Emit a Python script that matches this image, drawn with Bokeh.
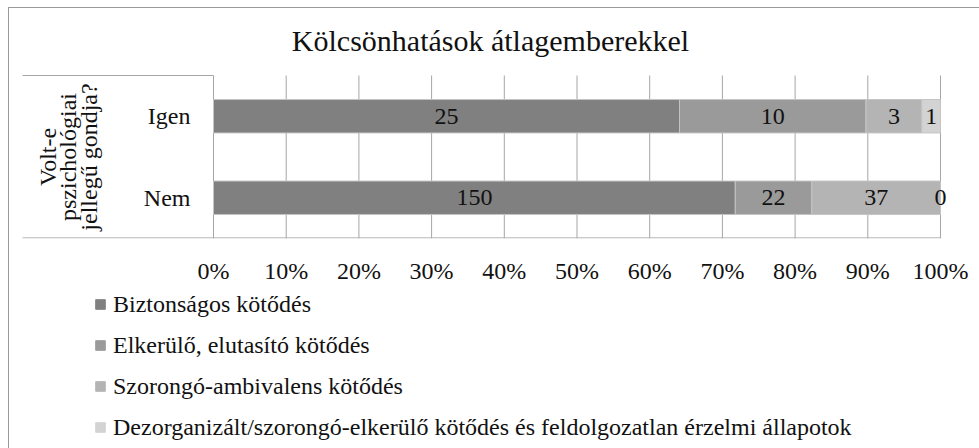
import numpy as np
from bokeh.plotting import figure
from bokeh.layouts import column
from bokeh.models import (ColumnDataSource, Legend, LegendItem, NumeralTickFormatter,
                          FixedTicker, Range1d)
from bokeh.embed import file_html
from bokeh.resources import INLINE
from bokeh.core.properties import value

# ---- data ----
categories = ["Nem", "Igen"]          # bottom to top
series_names = [
    "Biztonságos kötődés",
    "Elkerülő, elutasító kötődés",
    "Szorongó-ambivalens kötődés",
    "Dezorganizált/szorongó-elkerülő kötődés és feldolgozatlan érzelmi állapotok",
]
biztonsagos = [150, 25]
elkerulo = [22, 10]
szorongo = [37, 3]
dezorganizalt = [0, 1]
x_ticks = [0, 0.1, 0.2, 0.3, 0.4, 0.5, 0.6, 0.7, 0.8, 0.9, 1.0]
title_text = "Kölcsönhatások átlagemberekkel"
axis_title_lines = ["Volt-e", "pszichológiai", "jellegű gondja?"]

colors = ["#808080", "#9a9a9a", "#b4b4b4", "#d3d3d3"]
FONT = "Liberation Serif"
TXT = "#111111"
LINE = "#a6a6a6"
FS = "24px"

series = [biztonsagos, elkerulo, szorongo, dezorganizalt]
counts = np.array(series, dtype=float)
fracs = counts / counts.sum(axis=0)
lefts = np.vstack([np.zeros(len(categories)), np.cumsum(fracs, axis=0)[:-1]])
rights = np.cumsum(fracs, axis=0)
y_pos = np.arange(len(categories)) + 0.5

# ---- layout geometry (page pixels) ----
OX, OY = 9, 8                 # content origin inside the bordered box
W = 979 - OX
H1, H2 = 290 - OY, 158
X0, X100 = 213 - OX, 940 - OX  # figure pixel of 0% and 100%
YTOP, YBOT = 75 - OY, 238 - OY
FR_RIGHT = 950 - OX
ux = X100 - X0
uy = (YBOT - YTOP) / 2.0
px2x = lambda px: (px - OX - X0) / ux          # page px -> data x
py2y = lambda py: (YBOT - (py - OY)) / uy      # page px -> data y

p = figure(width=W, height=H1, output_backend="svg", toolbar_location=None,
           x_range=Range1d(px2x(OX), px2x(950)), y_range=Range1d(0, py2y(OY)),
           y_axis_location=None,
           min_border_left=0, min_border_right=W - FR_RIGHT, min_border_top=0,
           min_border_bottom=H1 - YBOT)
p.outline_line_color = None
p.grid.visible = False
p.background_fill_color = "white"
p.border_fill_color = "white"

# gridlines (vertical) over plot area only
p.segment(x0=x_ticks, y0=[0] * len(x_ticks), x1=x_ticks, y1=[2] * len(x_ticks),
          line_color=LINE, line_width=1)

renderers = []
for i, name in enumerate(series_names):
    src = ColumnDataSource(dict(
        y=y_pos, left=lefts[i], right=rights[i],
        mid=(lefts[i] + rights[i]) / 2, txt=[str(int(v)) for v in series[i]]))
    r = p.hbar(y="y", left="left", right="right", height=0.41, source=src,
               fill_color=colors[i], line_color="#c4c4c4", line_width=1)
    renderers.append(r)
    p.text(x="mid", y="y", text="txt", source=src, text_align="center",
           text_baseline="middle", text_font=value(FONT),
           text_font_size=FS, text_color=TXT)

# table lines on the left and bottom line
p.segment(x0=[px2x(22), px2x(22)], y0=[2, 0.007], x1=[0, 1], y1=[2, 0.007],
          line_color=LINE, line_width=1)

# category labels
p.text(x=[px2x(190)] * len(categories), y=y_pos, text=categories, text_align="right",
       text_baseline="middle", text_font=value(FONT), text_font_size=FS, text_color=TXT)

# rotated axis title
p.text(x=[px2x(v) for v in (47, 67.5, 88)], y=[1.0] * 3, text=axis_title_lines,
       angle=np.pi / 2, text_align="center", text_baseline="alphabetic",
       text_font=value(FONT), text_font_size=FS, text_color=TXT)

# chart title
p.text(x=[px2x(490)], y=[py2y(40)], text=[title_text], text_align="center",
       text_baseline="middle", text_font=value(FONT), text_font_size="30px",
       text_color=TXT)

# x axis
p.xaxis.ticker = FixedTicker(ticks=x_ticks)
p.xaxis.formatter = NumeralTickFormatter(format="0%")
p.xaxis.axis_line_color = None
p.xaxis.major_tick_line_color = None
p.xaxis.minor_tick_line_color = None
p.xaxis.major_label_text_font = FONT
p.xaxis.major_label_text_font_size = FS
p.xaxis.major_label_text_color = TXT
p.xaxis.major_label_standoff = 13

# ---- legend panel ----
p2 = figure(width=W, height=H2, output_backend="svg", toolbar_location=None,
            x_range=Range1d(0, W), y_range=Range1d(0, H2),
            x_axis_location=None, y_axis_location=None,
            min_border=0, min_border_left=0, min_border_right=0,
            min_border_top=0, min_border_bottom=0)
p2.outline_line_color = None
p2.grid.visible = False
p2.background_fill_color = "white"
p2.border_fill_color = "white"

leg_r = []
for i, name in enumerate(series_names):
    # swatch-only renderers placed outside the visible range
    leg_r.append(p2.hbar(y=[-100], left=[-100], right=[-90], height=1,
                         fill_color=colors[i], line_color=colors[i]))
legend = Legend(items=[LegendItem(label=n, renderers=[r]) for n, r in zip(series_names, leg_r)],
                location=(94 - OX, 7), orientation="vertical",
                border_line_alpha=0, background_fill_alpha=0, padding=0, margin=0,
                spacing=13, glyph_width=12, glyph_height=12, label_height=28,
                label_standoff=7, label_text_font=FONT, label_text_font_size=FS,
                label_text_color=TXT)
p2.add_layout(legend)

layout = column(p, p2, spacing=0,
                styles={"margin-left": "8px", "margin-top": "7px",
                        "border-left": "1px solid #9a9a9a",
                        "border-top": "1px solid #9a9a9a"})
open("out.html", "w").write(file_html(layout, INLINE))
